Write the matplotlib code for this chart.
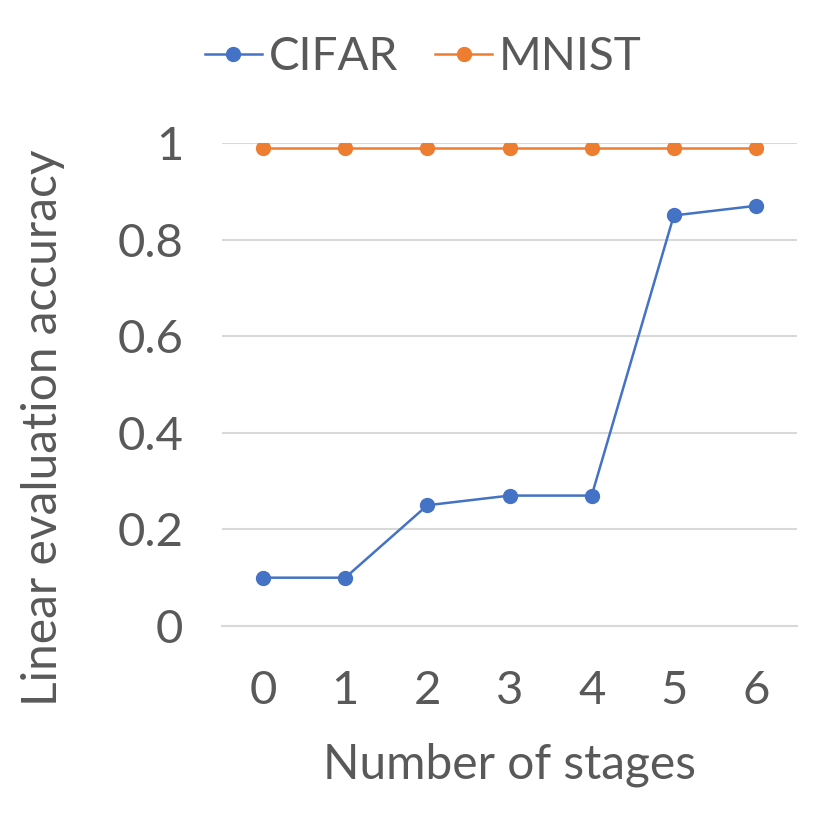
import matplotlib
matplotlib.use("Agg")
import matplotlib.pyplot as plt

# data
stages = [0, 1, 2, 3, 4, 5, 6]
cifar = [0.10, 0.10, 0.25, 0.27, 0.27, 0.85, 0.87]
mnist = [0.99, 0.99, 0.99, 0.99, 0.99, 0.99, 0.99]
y_ticks = [0, 0.2, 0.4, 0.6, 0.8, 1]
y_tick_labels = ["0", "0.2", "0.4", "0.6", "0.8", "1"]

TEXT = "#595959"
plt.rcParams["font.family"] = ["Lato", "DejaVu Sans"]

fig = plt.figure(figsize=(8.3, 8.3), dpi=100)
ax = fig.add_axes([0.2675, 0.2458, 0.6928, 0.5819])

ax.plot(stages, cifar, color="#4472C4", lw=1.8, marker="o", ms=10, label="CIFAR")
ax.plot(stages, mnist, color="#ED7D31", lw=1.8, marker="o", ms=10, label="MNIST")

ax.set_xlim(-0.5, 6.5)
ax.set_ylim(0, 1)
ax.set_xticks(stages)
ax.set_yticks(y_ticks)
ax.set_yticklabels(y_tick_labels)
ax.tick_params(length=0, labelsize=34, colors=TEXT)
ax.tick_params(axis="x", pad=32)
ax.tick_params(axis="y", pad=28)
ax.grid(axis="y", color="#D9D9D9", lw=1.5)
ax.set_axisbelow(True)
for s in ["top", "right", "left"]:
    ax.spines[s].set_visible(False)
ax.spines["bottom"].set_color("#D9D9D9")
ax.spines["bottom"].set_linewidth(1.5)
ax.spines["bottom"].set_zorder(0)

ax.set_xlabel("Number of stages", fontsize=34.5, color=TEXT, labelpad=22)
ax.set_ylabel("Linear evaluation accuracy", fontsize=34.5, color=TEXT)
ax.yaxis.set_label_coords(-0.273, 0.41)

fig.legend(loc="center", bbox_to_anchor=(0.51, 0.931), ncol=2, frameon=False,
           fontsize=33, labelcolor=TEXT, handlelength=1.25, handletextpad=0.15,
           columnspacing=0.8)

fig.savefig("out.png", dpi=100)
